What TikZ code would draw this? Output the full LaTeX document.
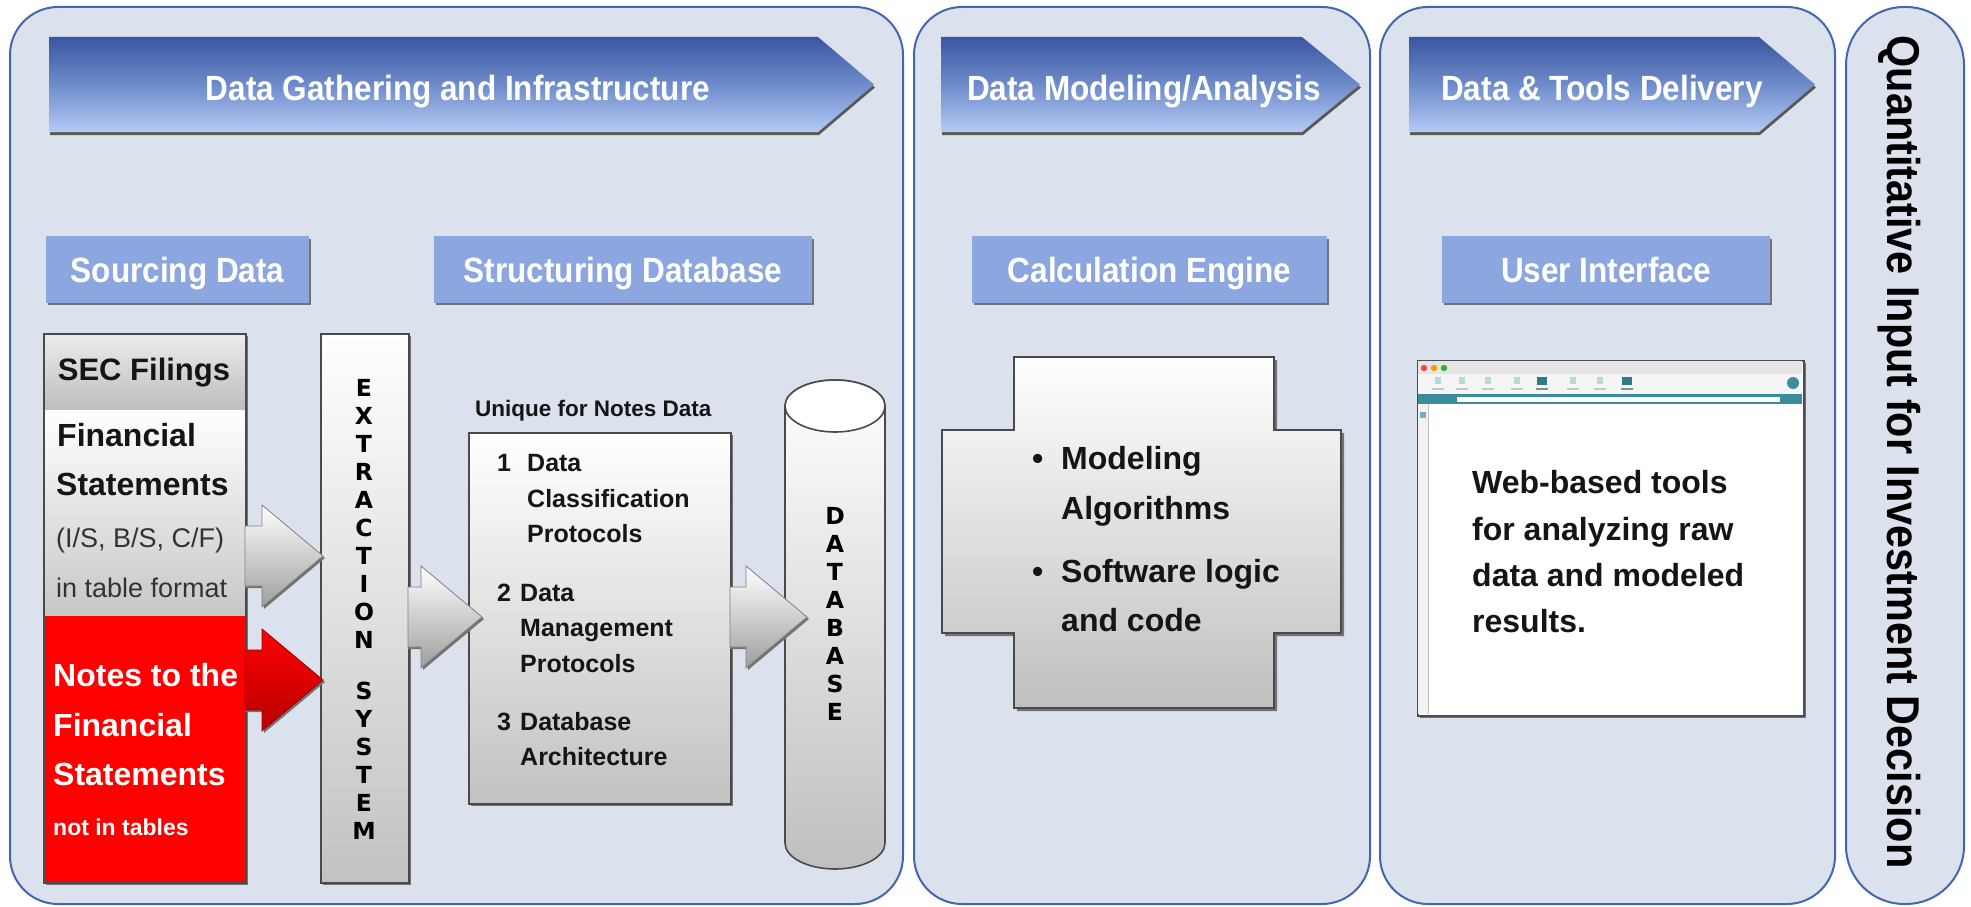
\documentclass[tikz,border=0pt]{standalone}
\usepackage{fontspec}
\setmainfont{Liberation Sans}
\newfontfamily\condfont[FakeStretch=0.9]{Liberation Sans}
\newfontfamily\qfont[FakeStretch=0.9]{Liberation Sans}
\newfontfamily\heavyfont{DejaVu Sans}
\usetikzlibrary{calc}
\definecolor{panelfill}{HTML}{DCE2ED}
\definecolor{panelline}{HTML}{4466B0}
\definecolor{hdtop}{HTML}{3A56A0}
\definecolor{hdmid}{HTML}{6E8BCB}
\definecolor{hdbot}{HTML}{B4CBF5}
\definecolor{subfill}{HTML}{8CA7E0}
\definecolor{boxline}{HTML}{4A4A4A}
\definecolor{graybot}{HTML}{C2C2C2}
\definecolor{brteal}{HTML}{3A8E9C}
\definecolor{txtdark}{HTML}{151515}
\newcommand\hdarrow[3]{%
  \fill[black!65] (#1+1,40) -- (#2+1,40) -- (#3+1,87.5) -- (#2+1,135) -- (#1+1,135) -- cycle;
  \path[hdshape] (#1,37) -- (#2,37) -- (#3,84.5) -- (#2,132) -- (#1,132) -- cycle;}
\newcommand\blockarrow[4]{%
  \fill[black!55] (#2,#3-28) -- (#4-59,#3-28) -- (#4-59,#3-49) -- (#4+2,#3+2) -- (#4-59,#3+53) -- (#4-59,#3+32) -- (#2,#3+32) -- cycle;
  \path[#1] (#2,#3-30) -- (#4-61,#3-30) -- (#4-61,#3-51) -- (#4,#3) -- (#4-61,#3+51) -- (#4-61,#3+30) -- (#2,#3+30) -- cycle;}
\begin{document}
\begin{tikzpicture}[x=1pt,y=-1pt,
  panel/.style={draw=panelline,line width=2pt,fill=panelfill,rounded corners=48pt},
  hdshape/.style={top color=hdtop,bottom color=hdbot,middle color=hdmid},
  hdtext/.style={text=white,font=\condfont\bfseries\fontsize{35}{40}\selectfont,inner sep=0pt,anchor=base},
  subbox/.style={fill=subfill,inner sep=0pt,anchor=north west,minimum height=67pt,text=white,
    font=\condfont\bfseries\fontsize{35}{40}\selectfont,text height=30pt,text depth=5pt},
  graybox/.style={top color=white,bottom color=graybot,draw=boxline,line width=1.6pt,inner sep=0pt,anchor=north west},
  shad/.style={fill=black!55},
  grayarrow/.style={top color=white,bottom color=black!38,draw=black!50,line width=0.8pt},
  redarrow/.style={top color=red,bottom color=red!72!black,draw=red!60!black,line width=0.8pt},
  coltext/.style={anchor=base west,inner sep=0pt,text=txtdark,font=\bfseries\fontsize{32}{36}\selectfont},
  colsmall/.style={anchor=base west,inner sep=0pt,text=black!80,font=\fontsize{27}{32}\selectfont},
  proto/.style={anchor=base west,inner sep=0pt,text=txtdark,font=\bfseries\fontsize{25}{30}\selectfont},
  bigtext/.style={anchor=base west,inner sep=0pt,text=txtdark,font=\bfseries\fontsize{32}{36}\selectfont},
  vletters/.style={align=center,inner sep=0pt,text=black,font=\heavyfont\bfseries\fontsize{23.5}{28}\selectfont}
]
\fill[white] (0,0) rectangle (1971,907);
\useasboundingbox (0,0) rectangle (1971,907);

% panels
\draw[panel] (10,7) rectangle (903,904);
\draw[panel] (914,7) rectangle (1370,904);
\draw[panel] (1380,7) rectangle (1835,904);
\draw[panel,rounded corners=58pt] (1846,7) rectangle (1964,904);

% header arrows
\hdarrow{49}{818}{874}
\hdarrow{941}{1302}{1360}
\hdarrow{1409}{1759}{1815}
\node[hdtext] (h1) at (458,100) {Data Gathering and Infrastructure};
\node[hdtext] (h2) at (1144,100) {Data Modeling/Analysis};
\node[hdtext] (h3) at (1602,100) {Data \& Tools Delivery};

% sub-header boxes
\fill[shad] (48,239) rectangle (311,305);
\node[subbox,minimum width=263pt] (s1) at (46,236) {Sourcing Data};
\fill[shad] (436,239) rectangle (814,305);
\node[subbox,minimum width=378pt] (s2) at (434,236) {Structuring Database};
\fill[shad] (974,239) rectangle (1329,305);
\node[subbox,minimum width=355pt] (s3) at (972,236) {Calculation Engine};
\fill[shad] (1444,239) rectangle (1772,305);
\node[subbox,minimum width=328pt] (s4) at (1442,236) {User Interface};

% SEC column
\fill[shad] (46,336) rectangle (248,885);
\path[top color=black!7,bottom color=black!26] (43,333) rectangle (245,410);
\path[top color=white,bottom color=black!22] (43,410) rectangle (245,616);
\fill[red] (43,616) rectangle (245,882);
\node[draw=boxline,line width=2.2pt,minimum width=202pt,minimum height=549pt,inner sep=0pt,anchor=north west] (sec) at (43,333) {};
\node[coltext,anchor=base,font=\bfseries\fontsize{31}{36}\selectfont] (secf) at (144,380) {SEC Filings};
\node[coltext] (fs1) at (57,446) {Financial};
\node[coltext] (fs2) at (56,495) {Statements};
\node[colsmall] (fs3) at (56,547) {(I/S, B/S, C/F)};
\node[colsmall] (fs4) at (56,597) {in table format};
\node[coltext,text=white] (n1) at (53,686) {Notes to the};
\node[coltext,text=white] (n2) at (53,736) {Financial};
\node[coltext,text=white] (n3) at (53,785) {Statements};
\node[coltext,text=white,font=\bfseries\fontsize{23}{28}\selectfont] (n4) at (53,835) {not in tables};

% extraction system
\fill[shad] (323,336) rectangle (411,885);
\node[graybox,minimum width=88pt,minimum height=549pt] (ext) at (320,333) {};
\node[vletters] (extt) at (364,609) {E\\X\\T\\R\\A\\C\\T\\I\\O\\N\\[23pt]S\\Y\\S\\T\\E\\M};

% arrows into extraction
\blockarrow{grayarrow}{245}{556}{323}
\blockarrow{redarrow}{245}{680}{323}

% protocols box
\node[anchor=base west,inner sep=0pt,text=txtdark,font=\bfseries\fontsize{22.5}{26}\selectfont] (uniq) at (475,416) {Unique for Notes Data};
\fill[shad] (471,435) rectangle (733,806);
\node[graybox,minimum width=262pt,minimum height=371pt] (prot) at (468,432) {};
\node[proto] (p1n) at (497,471) {1};
\node[proto] (p1a) at (527,471) {Data};
\node[proto] (p1b) at (527,507) {Classification};
\node[proto] (p1c) at (527,542) {Protocols};
\node[proto] (p2n) at (497,601) {2};
\node[proto] (p2a) at (520,601) {Data};
\node[proto] (p2b) at (520,636) {Management};
\node[proto] (p2c) at (520,672) {Protocols};
\node[proto] (p3n) at (497,730) {3};
\node[proto] (p3a) at (520,730) {Database};
\node[proto] (p3b) at (520,765) {Architecture};

\blockarrow{grayarrow}{408}{617}{482}

% database cylinder
\path[top color=white,bottom color=black!25,draw=boxline,line width=1.6pt]
  (785,406) -- (785,843) arc[start angle=180,end angle=0,x radius=50,y radius=26]
  -- (885,406) arc[start angle=0,end angle=-180,x radius=50,y radius=26] -- cycle;
\draw[fill=white,draw=boxline,line width=1.6pt] (835,406) ellipse[x radius=50,y radius=26];
\node[vletters] (dbt) at (835,614) {D\\A\\T\\A\\B\\A\\S\\E};

\blockarrow{grayarrow}{730}{617}{807}

% calculation engine cross
\fill[shad] (1017,360) -- (1277,360) -- (1277,433) -- (1344,433) -- (1344,636) -- (1277,636) -- (1277,711) -- (1017,711) -- (1017,636) -- (945,636) -- (945,433) -- (1017,433) -- cycle;
\path[top color=white,bottom color=black!25,draw=boxline,line width=1.6pt]
  (1014,357) -- (1274,357) -- (1274,430) -- (1341,430) -- (1341,633) -- (1274,633) -- (1274,708) -- (1014,708) -- (1014,633) -- (942,633) -- (942,430) -- (1014,430) -- cycle;
\node[bigtext] (b1) at (1032,469) {•};
\node[bigtext] (c1) at (1061,469) {Modeling};
\node[bigtext] (c2) at (1061,519) {Algorithms};
\node[bigtext] (b2) at (1032,582) {•};
\node[bigtext] (c3) at (1061,582) {Software logic};
\node[bigtext] (c4) at (1061,631) {and code};

% browser window
\fill[shad] (1420,363) rectangle (1806,718);
\node[draw=black!70,line width=1.8pt,fill=white,minimum width=386pt,minimum height=355pt,inner sep=0pt,anchor=north west] (browser) at (1417,360) {};
\fill[black!10] (1418,361) rectangle (1802,374);
\fill[red!75!white] (1424,368) circle (3.2);
\fill[orange!80!yellow] (1434,368) circle (3.2);
\fill[green!60!black!80] (1444,368) circle (3.2);
\fill[black!4] (1418,374) rectangle (1802,394);
\foreach \ix in {1438,1462,1488,1517,1573,1600}{
  \fill[brteal!35] (\ix-3,377) rectangle (\ix+3,384);
  \fill[black!22] (\ix-6,388) rectangle (\ix+6,390);}
\foreach \ix in {1542,1627}{
  \fill[brteal!85!black] (\ix-5,377) rectangle (\ix+5,385);
  \fill[black!45] (\ix-6,388) rectangle (\ix+6,390);}
\fill[brteal] (1793,383) circle (6);
\fill[brteal] (1418,394) rectangle (1802,404);
\fill[white] (1457,396.5) rectangle (1780,401.5);
\fill[black!5] (1418,404) rectangle (1428,714);
\draw[black!25,line width=0.6pt] (1428,404) -- (1428,714);
\fill[brteal!70] (1420,412) rectangle (1426,418);
\node[bigtext] (w1) at (1472,493) {Web-based tools};
\node[bigtext] (w2) at (1472,540) {for analyzing raw};
\node[bigtext] (w3) at (1472,586) {data and modeled};
\node[bigtext] (w4) at (1472,632) {results.};

% quantitative panel text
\node[rotate=-90,anchor=base,inner sep=0pt,text=black,font=\qfont\bfseries\fontsize{46}{50}\selectfont] (quant) at (1887,452) {Quantitative Input for Investment Decision};
\end{tikzpicture}
\end{document}
